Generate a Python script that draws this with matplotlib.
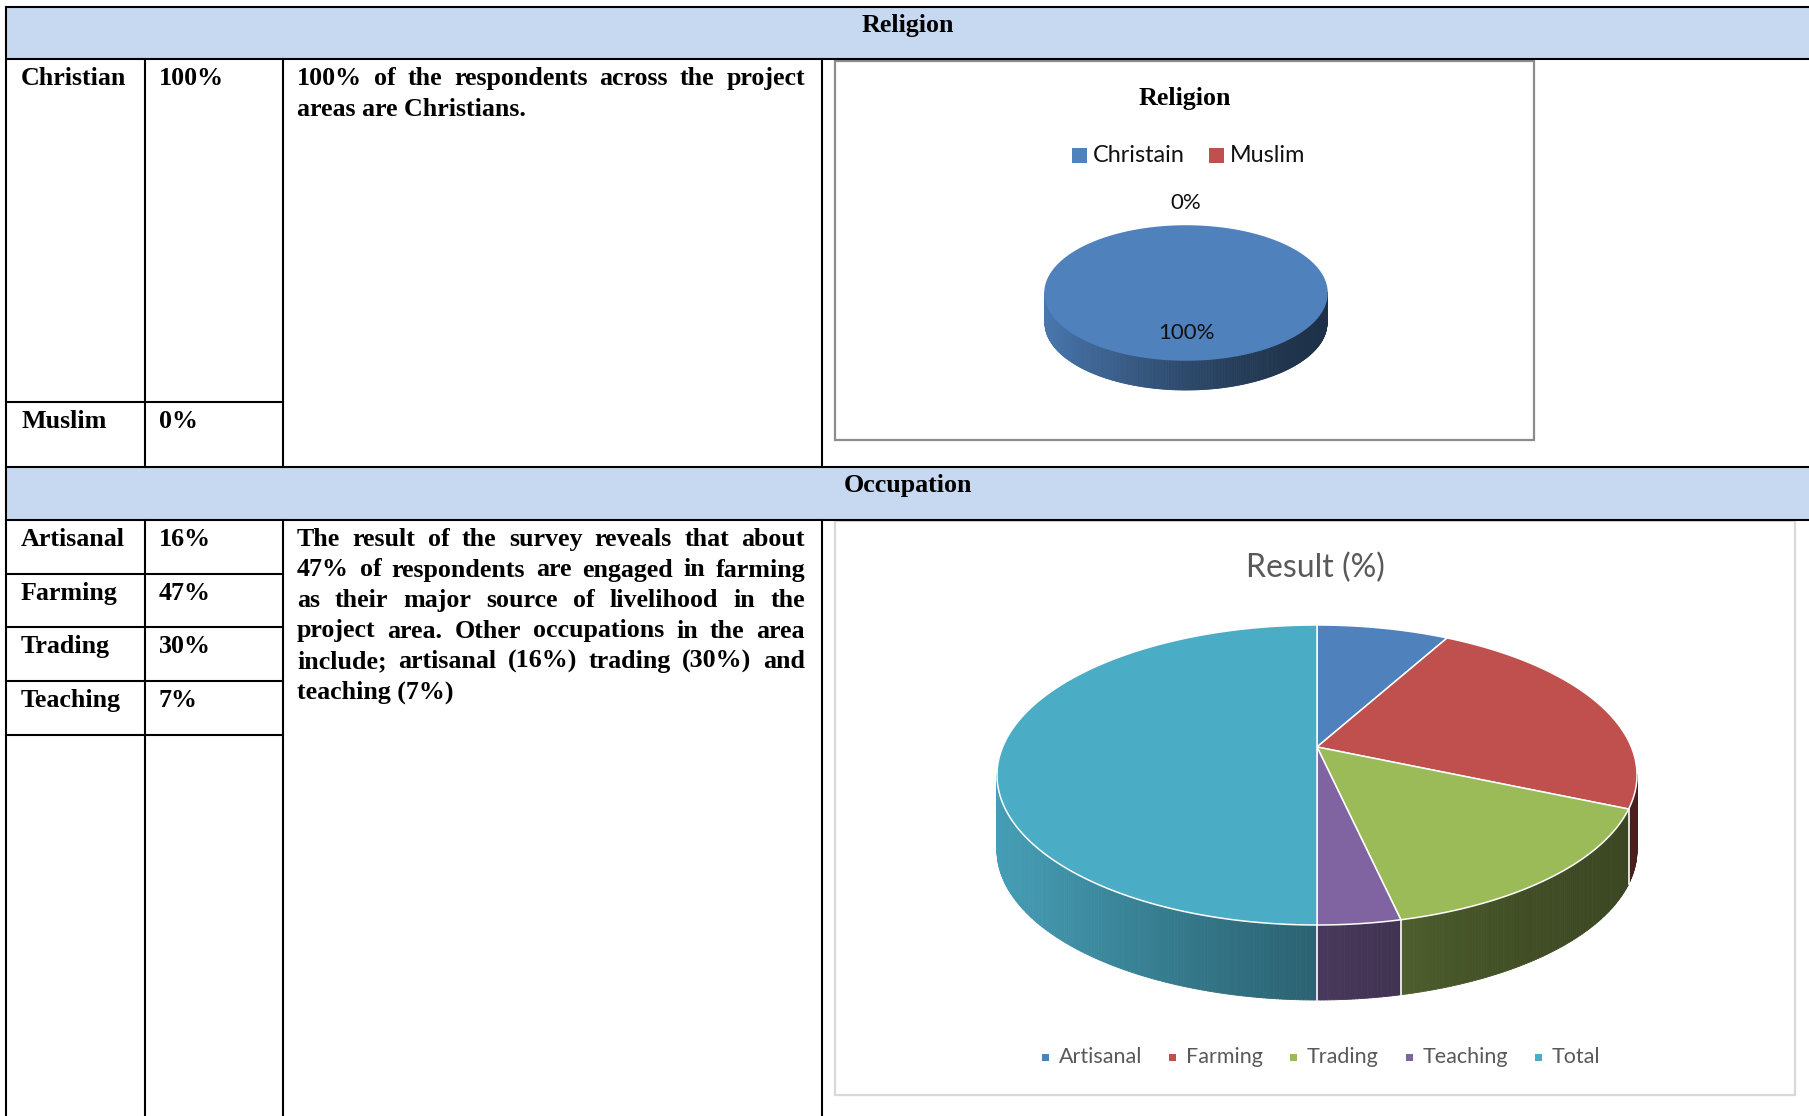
import numpy as np
import matplotlib
matplotlib.use('Agg')
import matplotlib.pyplot as plt
from matplotlib.patches import Rectangle, Polygon
from matplotlib.collections import PolyCollection
import matplotlib.colors as mcolors

# ---------------- data ----------------
section_titles = ['Religion', 'Occupation']

religion_labels = ['Christian', 'Muslim']
religion_table_values = ['100%', '0%']
religion_chart_labels = ['Christain', 'Muslim']
religion_values = [100, 0]
religion_colors = ['#4F81BD', '#C0504D']
religion_chart_title = 'Religion'
religion_text_lines = ["100% of the respondents across the project",
                       "areas are Christians."]

occupation_labels = ['Artisanal', 'Farming', 'Trading', 'Teaching']
occupation_table_values = ['16%', '47%', '30%', '7%']
occupation_chart_labels = ['Artisanal', 'Farming', 'Trading', 'Teaching', 'Total']
occupation_values = [16, 47, 30, 7, 100]
occupation_colors = ['#4F81BD', '#C0504D', '#9BBB59', '#8064A2', '#4BACC6']
occupation_chart_title = 'Result (%)'
occupation_text_lines = ["The result of the survey reveals that about",
                         "47% of respondents are engaged in farming",
                         "as their major source of livelihood in the",
                         "project area. Other occupations in the area",
                         "include; artisanal (16%) trading (30%) and",
                         "teaching (7%)"]

# ---------------- figure ----------------
W, H = 1809, 1116
fig = plt.figure(figsize=(W / 100, H / 100), dpi=100)
ax = fig.add_axes([0, 0, 1, 1])
ax.set_xlim(0, W)
ax.set_ylim(H, 0)
ax.axis('off')
renderer = fig.canvas.get_renderer()

SERIF = 'Liberation Serif'
SANS = 'Lato'
FS = 18.7
BAND = '#C6D9F1'
LW = 1.5

# table geometry (pixels)
X_LEFT, X_RIGHT = 6, 1812
COL1, COL2, COL3 = 145, 283, 822
Y_TOP = 7
REL_BAND = (7, 59)
OCC_BAND = (467, 520)

# header bands
for (y0, y1), title in zip([REL_BAND, OCC_BAND], section_titles):
    ax.add_patch(Rectangle((X_LEFT, y0), X_RIGHT - X_LEFT, y1 - y0, fc=BAND, ec='none', zorder=1))
    ax.text(908, y0 + 25, title, family=SERIF, weight='bold', fontsize=FS,
            ha='center', va='baseline', zorder=5)

# chart boxes
ax.add_patch(Rectangle((835, 61), 1534 - 835, 440 - 61, fc='white', ec='#8c8c8c', lw=1.6, zorder=2))
ax.add_patch(Rectangle((835, 521), 1795 - 835, 1095 - 521, fc='white', ec='#d9d9d9', lw=1.6, zorder=2))


def hline(y, x0, x1):
    ax.plot([x0, x1], [y, y], color='black', lw=LW, solid_capstyle='projecting', zorder=6)


def vline(x, y0, y1):
    ax.plot([x, x], [y0, y1], color='black', lw=LW, solid_capstyle='projecting', zorder=6)


# table lines
hline(Y_TOP, X_LEFT, X_RIGHT)
hline(REL_BAND[1], X_LEFT, X_RIGHT)
hline(OCC_BAND[0], X_LEFT, X_RIGHT)
hline(OCC_BAND[1], X_LEFT, X_RIGHT)
vline(X_LEFT, Y_TOP, H + 5)
for c in (COL1, COL2, COL3):
    vline(c, REL_BAND[1], OCC_BAND[0])
    vline(c, OCC_BAND[1], H + 5)

# religion rows
rel_row_tops = [REL_BAND[1], 402]
hline(402, X_LEFT, COL2)
for top, lab, val in zip(rel_row_tops, religion_labels, religion_table_values):
    ax.text(21, top + 26, lab, family=SERIF, weight='bold', fontsize=FS, va='baseline', zorder=5)
    ax.text(159, top + 26, val, family=SERIF, weight='bold', fontsize=FS, va='baseline', zorder=5)

# occupation rows
row_h = 53.7
occ_row_tops = [OCC_BAND[1] + i * row_h for i in range(len(occupation_labels))]
for i, (top, lab, val) in enumerate(zip(occ_row_tops, occupation_labels, occupation_table_values)):
    ax.text(21, top + 26, lab, family=SERIF, weight='bold', fontsize=FS, va='baseline', zorder=5)
    ax.text(159, top + 26, val, family=SERIF, weight='bold', fontsize=FS, va='baseline', zorder=5)
    hline(top + row_h, X_LEFT, COL2)


def justified(lines, x0, x1, y0, dy):
    for i, line in enumerate(lines):
        y = y0 + i * dy
        kw = dict(family=SERIF, weight='bold', fontsize=FS, va='baseline', ha='left', zorder=5)
        if i == len(lines) - 1:
            ax.text(x0, y, line, **kw)
            continue
        words = line.split(' ')
        ts = [ax.text(x0, y, w, **kw) for w in words]
        widths = [t.get_window_extent(renderer).width for t in ts]
        gap = (x1 - x0 - sum(widths)) / (len(words) - 1)
        x = x0
        for t, wd in zip(ts, widths):
            t.set_x(x)
            x += wd + gap


justified(religion_text_lines, 297, 805, REL_BAND[1] + 26, 30.5)
justified(occupation_text_lines, 297, 805, OCC_BAND[1] + 26, 30.5)


# ---------------- 3D pie ----------------
def make_proj(cx, cy, a, b, tper):
    ch = 1.0 / np.sqrt(1 - tper ** 2)
    sh = tper * ch

    def P(theta_deg, r=1.0):
        t = np.radians(theta_deg)
        x = r * np.cos(t)
        y = r * np.sin(t)
        w = sh * y + ch
        X = x / w
        Y = (ch * y + sh) / w
        return cx + a * X, cy - b * Y, X
    return P


def pie3d(values, colors, cx, cy, a, b, depth, tper=0.187):
    P = make_proj(cx, cy, a, b, tper)
    vals = np.asarray(values, float)
    fr = vals / vals.sum()
    cum = np.concatenate([[0.0], np.cumsum(fr)])
    th = 90 - 360 * cum
    vis_lo = -180 + np.degrees(np.arcsin(tper))
    vis_hi = -np.degrees(np.arcsin(tper))
    # sides
    for i in range(len(fr)):
        if fr[i] <= 0:
            continue
        hi, lo = th[i], th[i + 1]
        s_lo, s_hi = max(lo, vis_lo), min(hi, vis_hi)
        if s_hi <= s_lo:
            continue
        n = max(2, int((s_hi - s_lo) * 2))
        ts = np.linspace(s_lo, s_hi, n + 1)
        sx, sy, X = P(ts)
        quads, cols = [], []
        base = np.array(mcolors.to_rgb(colors[i]))
        for j in range(n):
            quads.append([(sx[j], sy[j] - 1), (sx[j + 1], sy[j + 1] - 1),
                          (sx[j + 1], sy[j + 1] + depth), (sx[j], sy[j] + depth)])
            xm = (X[j] + X[j + 1]) / 2
            f = 0.38 + 0.54 * ((1 - xm) / 2) ** 1.5
            cols.append(np.clip(base * f, 0, 1))
        ax.add_collection(PolyCollection(quads, facecolors=cols, edgecolors=cols,
                                         linewidths=0.6, zorder=3))
    # white separators on the side
    for k in range(1, len(th) - 1):
        if vis_lo < th[k] < vis_hi and fr[k - 1] > 0 and fr[k] > 0:
            sx, sy, _ = P(np.array([th[k]]))
            ax.plot([sx[0], sx[0]], [sy[0], sy[0] + depth], color='white', lw=1.2, zorder=3.5)
    # top faces
    ax_, ay_, _ = P(np.array([0.0]), r=0.0)
    for i in range(len(fr)):
        if fr[i] <= 0:
            continue
        hi, lo = th[i], th[i + 1]
        n = max(3, int((hi - lo) * 2))
        ts = np.linspace(hi, lo, n + 1)
        sx, sy, _ = P(ts)
        pts = list(zip(sx, sy))
        full = fr[i] >= 0.9999
        if not full:
            pts = [(ax_[0], ay_[0])] + pts
        ax.add_patch(Polygon(pts, closed=True, fc=colors[i],
                             ec=colors[i] if full else 'white', lw=1.1,
                             joinstyle='round', zorder=4))
    return P, th


def legend_row(labels, colors, cx, cy, sq, gap_t, gap_i, fs, tcolor, weight='normal'):
    ts = [ax.text(0, cy, l, family=SANS, fontsize=fs, color=tcolor, va='center',
                  ha='left', weight=weight, zorder=5) for l in labels]
    widths = [t.get_window_extent(renderer).width for t in ts]
    total = sum(sq + gap_t + w for w in widths) + gap_i * (len(labels) - 1)
    x = cx - total / 2
    for t, w, c in zip(ts, widths, colors):
        ax.add_patch(Rectangle((x, cy - sq / 2), sq, sq, fc=c, ec='none', zorder=5))
        t.set_x(x + sq + gap_t)
        x += sq + gap_t + w + gap_i


# Religion chart
ax.text(1185, 105, religion_chart_title, family=SERIF, weight='bold', fontsize=FS,
        ha='center', va='baseline', zorder=5)
legend_row(religion_chart_labels, religion_colors, 1189, 155, 15, 6, 24, 16.8, '#111111')
P_rel, th_rel = pie3d(religion_values, religion_colors, 1186, 293, 141, 67, 30)
rel_frac = np.asarray(religion_values, float) / sum(religion_values)
for i, v in enumerate(religion_values):
    mid = (th_rel[i] + th_rel[i + 1]) / 2
    r = 0.7 if rel_frac[i] > 0.05 else 1.55
    sx, sy, _ = P_rel(np.array([mid]), r=r)
    ax.text(sx[0], sy[0], f'{rel_frac[i] * 100:.0f}%', family=SANS, fontsize=16,
            color='#111111', ha='center', va='center', zorder=5)

# Occupation chart
ax.text(1315, 577, occupation_chart_title, family=SANS, weight='normal', fontsize=23,
        color='#595959', ha='center', va='baseline', zorder=5)
pie3d(occupation_values, occupation_colors, 1317, 775, 320, 150, 75)
legend_row(occupation_chart_labels, occupation_colors, 1321, 1057, 7, 10, 27, 15.5, '#595959')

fig.savefig('out.png', dpi=100, facecolor='white')
